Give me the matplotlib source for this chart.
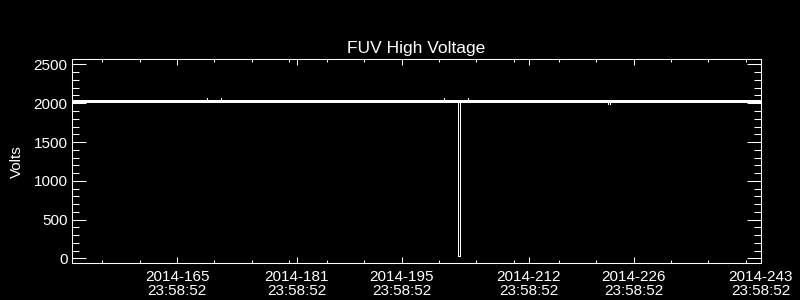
import matplotlib
matplotlib.use("Agg")
import matplotlib.pyplot as plt
import matplotlib.dates as mdates
import pandas as pd
from matplotlib.ticker import FixedLocator, MultipleLocator

# FUV high voltage readings (time as year-dayofyear hh:mm)
hv_time = [
    "2014-151 23:58", "2014-170 00:00", "2014-170 00:00", "2014-170 00:00",
    "2014-171 22:20", "2014-171 22:20", "2014-171 22:20",
    "2014-201 16:20", "2014-201 16:20", "2014-201 16:20",
    "2014-203 13:10", "2014-203 13:10", "2014-203 19:40", "2014-203 19:40",
    "2014-204 19:30", "2014-204 19:30", "2014-204 19:30",
    "2014-223 14:30", "2014-223 14:30", "2014-223 14:30",
    "2014-223 20:50", "2014-223 20:50", "2014-223 20:50",
    "2014-243 23:58",
]
hv_volts = [
    2025, 2025, 2062, 2025,
    2025, 2062, 2025,
    2025, 2062, 2025,
    2025, 35, 35, 2025,
    2025, 2062, 2025,
    2025, 1988, 2025,
    2025, 1988, 2025,
    2025,
]

# spread of the nominal readings (min / max)
band_time = ["2014-151 23:58", "2014-243 23:58"]
band_lo = [2005, 2005]
band_hi = [2045, 2045]

# axis ticks (day of year, labelled at 23:58:52)
major_days = [165, 181, 195, 212, 226, 243]
minor_days = [155, 160, 170, 175, 180, 185, 190, 200, 205, 210, 216, 221, 231, 236, 241]
x_start = "2014-151 23:58:52"
x_end = "2014-243 23:58:52"


def doy_times(days):
    return pd.to_datetime(["2014-%03d 23:58:52" % d for d in days], format="%Y-%j %H:%M:%S")


t = pd.to_datetime(hv_time, format="%Y-%j %H:%M")
tb = pd.to_datetime(band_time, format="%Y-%j %H:%M")

plt.rcParams['font.family'] = ['Liberation Sans', 'DejaVu Sans']

fig = plt.figure(figsize=(8, 3), dpi=100, facecolor='black')
ax = fig.add_axes([0.0904, 0.1223, 0.8605, 0.68])
ax.set_facecolor('black')

ax.fill_between(tb, band_lo, band_hi, color='white', linewidth=0)
ax.plot(t, hv_volts, color='white', linewidth=0.75)

ax.set_xlim(pd.to_datetime(x_start, format="%Y-%j %H:%M:%S"),
            pd.to_datetime(x_end, format="%Y-%j %H:%M:%S"))
ax.set_ylim(-62, 2566)

ax.xaxis.set_major_locator(FixedLocator(mdates.date2num(doy_times(major_days))))
ax.xaxis.set_minor_locator(FixedLocator(mdates.date2num(doy_times(minor_days))))
ax.xaxis.set_major_formatter(mdates.DateFormatter("%Y-%j\n%H:%M:%S"))
ax.yaxis.set_major_locator(MultipleLocator(500))
ax.yaxis.set_minor_locator(MultipleLocator(100))

for s in ax.spines.values():
    s.set_color('white')
    s.set_linewidth(0.75)

ax.tick_params(axis='both', which='both', direction='in', colors='white',
               top=True, right=True, width=0.75)
ax.tick_params(axis='x', which='major', length=4.3, pad=4.5, labelsize=11)
ax.tick_params(axis='x', which='minor', length=2.2)
ax.tick_params(axis='y', which='major', length=10, pad=3.3, labelsize=11)
ax.tick_params(axis='y', which='minor', length=5)
for lbl in ax.get_xticklabels():
    lbl.set_linespacing(1.0)

ax.set_title('FUV High Voltage', color='white', fontsize=12.5, pad=4.5)
ax.set_ylabel('Volts', color='white', fontsize=11)
ax.yaxis.set_label_coords(-0.07, 0.5)

fig.savefig('out.png', dpi=100, facecolor='black')
